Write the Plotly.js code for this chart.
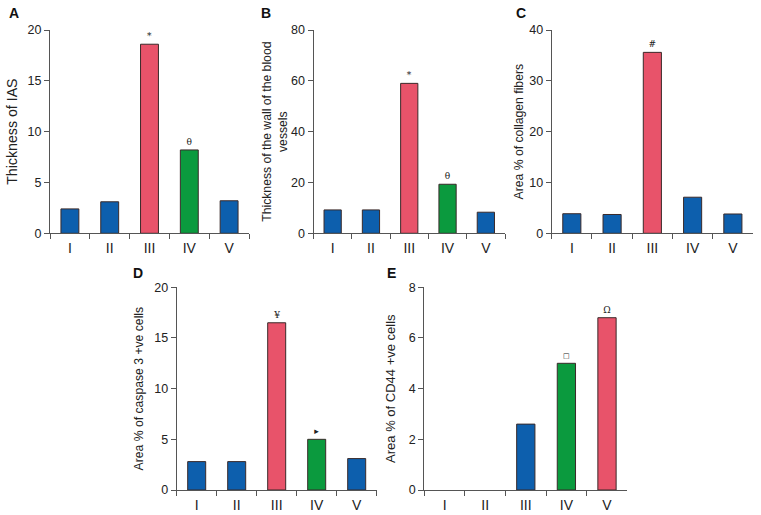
<!DOCTYPE html>
<html><head><meta charset="utf-8">
<script src="https://cdn.plot.ly/plotly-3.0.1.min.js"></script>
<style>html,body{margin:0;padding:0;background:#fff}#chart{width:761px;height:515px}</style>
</head><body><div id="chart"></div>
<script>
const groups = ["I","II","III","IV","V"];
const valuesA = [2.4, 3.1, 18.6, 8.2, 3.2];
const valuesB = [9.2, 9.2, 59, 19.3, 8.3];
const valuesC = [3.85, 3.7, 35.6, 7.1, 3.8];
const valuesD = [2.8, 2.8, 16.5, 5.0, 3.1];
const valuesE = [0, 0, 2.6, 5.0, 6.8];
const marksA = ["", "", "*", "θ", ""];
const marksB = ["", "", "*", "θ", ""];
const marksC = ["", "", "#", "", ""];
const marksD = ["", "", "¥", "▸", ""];
const marksE = ["", "", "", "□", "Ω"];
const titleA = "Thickness of IAS";
const titleB = "Thickness of the wall of the blood<br>vessels";
const titleC = "Area % of collagen fibers";
const titleD = "Area % of caspase 3 +ve cells";
const titleE = "Area % of CD44 +ve cells";
const labels = ["A","B","C","D","E"];
const yMax = [20, 80, 40, 20, 8];

const BLUE = "#0d5fad", RED = "#e8536a", GREEN = "#0b9a3e";
const colorsStd = [BLUE, BLUE, RED, GREEN, BLUE];
const colorsC = [BLUE, BLUE, RED, BLUE, BLUE];
const colorsE = [BLUE, BLUE, BLUE, GREEN, RED];

const W = 761, H = 515;
const px = (a,b)=>[a/W, b/W];
const py = (top,bot)=>[1-bot/H, 1-top/H];

const panels = [
  {v: valuesA, m: marksA, t: titleA, c: colorsStd, xd: px(50,249),  yd: py(30,233.3), ts: 14.2, so: 6},
  {v: valuesB, m: marksB, t: titleB, c: colorsStd, xd: px(313.5,505), yd: py(30,233.3), ts: 12.2, so: 0},
  {v: valuesC, m: marksC, t: titleC, c: colorsC,   xd: px(551.7,753), yd: py(30,233.3), ts: 12.2, so: 3},
  {v: valuesD, m: marksD, t: titleD, c: colorsStd, xd: px(176.7,376.7), yd: py(287.3,490), ts: 12.2, so: 8},
  {v: valuesE, m: marksE, t: titleE, c: colorsE,   xd: px(424.3,627.3), yd: py(287.3,490), ts: 13, so: 10}
];

const font = "Liberation Sans, Arial, sans-serif";
const traces = [];
const layout = {
  width: W, height: H, margin: {l:0,r:0,t:0,b:0},
  paper_bgcolor: "#fff", plot_bgcolor: "rgba(0,0,0,0)",
  showlegend: false, font: {family: font, color: "#222", size: 12},
  annotations: []
};
const labelPos = [[14,13],[266,13],[521,13],[138,273],[391,273]];

panels.forEach((p,i)=>{
  const n = i===0 ? "" : String(i+1);
  traces.push({
    type: "bar", x: groups, y: p.v, xaxis: "x"+n, yaxis: "y"+n,
    width: 0.45,
    marker: {color: p.c, line: {color: "#3a2a2a", width: p.v.map(v => v === 0 ? 0 : 1)}},
    text: p.m, textposition: "outside", cliponaxis: false,
    textfont: {size: p.m.map(s => s === "□" ? 7 : 9), color: "#222", family: "DejaVu Serif, serif"},
    hoverinfo: "none"
  });
  layout["xaxis"+n] = {
    domain: p.xd, anchor: "y"+n, type: "category", range: [-0.5, 4.5],
    showline: true, linecolor: "#555", linewidth: 1,
    ticks: "outside", tickson: "boundaries", ticklen: 5, tickcolor: "#555",
    showgrid: false, zeroline: false, fixedrange: true, ticklabelstandoff: 2,
    tickfont: {size: 14, color: "#222"}
  };
  layout["yaxis"+n] = {
    domain: p.yd, anchor: "x"+n, range: [0, yMax[i]], dtick: yMax[i]/4,
    showline: true, linecolor: "#555", linewidth: 1,
    ticks: "outside", ticklen: 5, tickcolor: "#555",
    showgrid: false, zeroline: false, fixedrange: true,
    tickfont: {size: 12.5, color: "#222"},
    title: {text: p.t, font: {size: p.ts, color: "#222"}, standoff: p.so}
  };
  layout.annotations.push({
    text: "<b>"+labels[i]+"</b>", xref: "paper", yref: "paper",
    x: labelPos[i][0]/W, y: 1-labelPos[i][1]/H, xanchor: "center", yanchor: "middle",
    showarrow: false, font: {size: 14, color: "#111", family: font}
  });
});

Plotly.newPlot("chart", traces, layout, {displayModeBar: false, staticPlot: true});
</script></body></html>
